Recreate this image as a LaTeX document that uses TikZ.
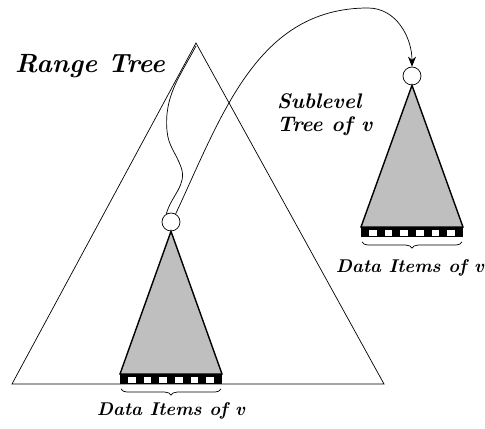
\documentclass[tikz,border=0pt]{standalone}
\usepackage{tikz}
\usetikzlibrary{arrows.meta,calc,positioning,decorations.pathreplacing}
\tikzset{
  vnode/.style={circle,draw,fill=white,inner sep=0pt,minimum size=0.36cm},
  subtree/.style={draw,thick,fill=gray!50},
  items/.style={fill=black},
  itembrace/.style={decorate,decoration={brace,mirror,amplitude=3.5pt},thin},
  lab/.style={font=\fontsize{10.5}{12.5}\selectfont\bfseries\itshape},
  arr/.style={-{Stealth[length=2mm,width=1.6mm]},thin}
}
\begin{document}
\begin{tikzpicture}[x=0.02cm,y=0.02cm]
  \useasboundingbox (0,0) rectangle (485,429);
  % the range tree
  \draw (196,386) -- (12,45) -- (384,45) -- cycle;
  \coordinate (root) at (196,383);
  \node[font=\fontsize{15}{17}\selectfont\bfseries\itshape] (title) at (90,363) {Range Tree};
  % sublevel tree inside
  \node[vnode] (v) at (171,207) {};
  \draw[subtree] (v.south) -- (120,55) -- (222,55) -- cycle;
  \fill[items] (120,45) rectangle (222,55);
  \foreach \i in {0,...,5}
    \fill[white] ({120+7.85*(2*\i+1)},45.5) rectangle ({120+7.85*(2*\i+2)},52);
  \draw[itembrace] (121,40) -- (221,40);
  \node[lab] (itemsv) at (171,18) {Data Items of v};
  % sublevel tree of v
  \node[vnode] (w) at (412,353) {};
  \draw[subtree] (w.south) -- (361,202) -- (463,202) -- cycle;
  \fill[items] (361,192) rectangle (463,202);
  \foreach \i in {0,...,5}
    \fill[white] ({361+7.85*(2*\i+1)},192.5) rectangle ({361+7.85*(2*\i+2)},199);
  \draw[itembrace] (362,187) -- (462,187);
  \node[lab] (itemsw) at (410,161) {Data Items of v};
  \node[lab,font=\fontsize{12}{13.5}\selectfont\bfseries\itshape,align=left,
    anchor=north west] (sub) at (271,342) {Sublevel\\Tree of v};
  % search path and pointer
  \draw (root) to[out=242,in=95] (167,298) to[out=275,in=110] (181,262)
    to[out=290,in=75] (v.120);
  \coordinate (peak) at (368,421);
  \draw[arr] (v.60) to[out=65,in=180] (peak) to[out=0,in=90] (w.north);
\end{tikzpicture}
\end{document}
